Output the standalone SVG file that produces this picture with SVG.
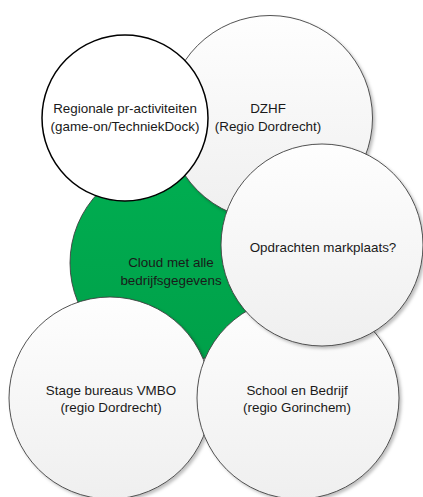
<svg xmlns="http://www.w3.org/2000/svg" width="423" height="497" viewBox="0 0 423 497">
  <defs>
    <linearGradient id="gGray" x1="0" y1="0" x2="0" y2="1">
      <stop offset="0" stop-color="#fefefe"/>
      <stop offset="1" stop-color="#efefef"/>
    </linearGradient>
    <linearGradient id="gGreen" x1="0" y1="0" x2="0" y2="1">
      <stop offset="0" stop-color="#00ae51"/>
      <stop offset="1" stop-color="#00a049"/>
    </linearGradient>
    <filter id="shadow" x="-10%" y="-10%" width="125%" height="125%">
      <feDropShadow dx="2.2" dy="2.2" stdDeviation="1.4" flood-color="#000" flood-opacity="0.25"/>
    </filter>
  </defs>
  <style>
    .bubble { fill: url(#gGray); stroke: #404040; stroke-width: 0.9; filter: url(#shadow); }
    .cloud { fill: url(#gGreen); stroke: #404040; stroke-width: 0.9; }
    .plain { fill: #ffffff; stroke: #000000; stroke-width: 1.5; }
    text { font-family: "Liberation Sans", Arial, sans-serif; font-size: 13.4px; fill: #1a1a1a; text-anchor: middle; }
  </style>
  <rect width="423" height="497" fill="#ffffff"/>
  <g id="connectors"/>
  <g id="cloud">
    <circle class="cloud" cx="171" cy="263" r="101"/>
    <text x="171" y="266.5">Cloud met alle</text>
    <text x="171" y="284.5">bedrijfsgegevens</text>
  </g>
  <g id="stage">
    <circle class="bubble" cx="110" cy="398" r="101"/>
    <text x="111" y="394.5">Stage bureaus VMBO</text>
    <text x="111" y="412">(regio Dordrecht)</text>
  </g>
  <g id="school">
    <circle class="bubble" cx="298" cy="398" r="101"/>
    <text x="297" y="394.5">School en Bedrijf</text>
    <text x="297" y="412">(regio Gorinchem)</text>
  </g>
  <g id="dzhf">
    <circle class="bubble" cx="270" cy="118" r="102.5"/>
    <text x="268" y="113">DZHF</text>
    <text x="268" y="131">(Regio Dordrecht)</text>
  </g>
  <g id="opdrachten">
    <circle class="bubble" cx="322" cy="245" r="101"/>
    <text x="323" y="251.5">Opdrachten markplaats?</text>
  </g>
  <g id="regionale">
    <circle class="plain" cx="125" cy="118" r="83"/>
    <text x="125" y="113">Regionale pr-activiteiten</text>
    <text x="125" y="131">(game-on/TechniekDock)</text>
  </g>
</svg>
